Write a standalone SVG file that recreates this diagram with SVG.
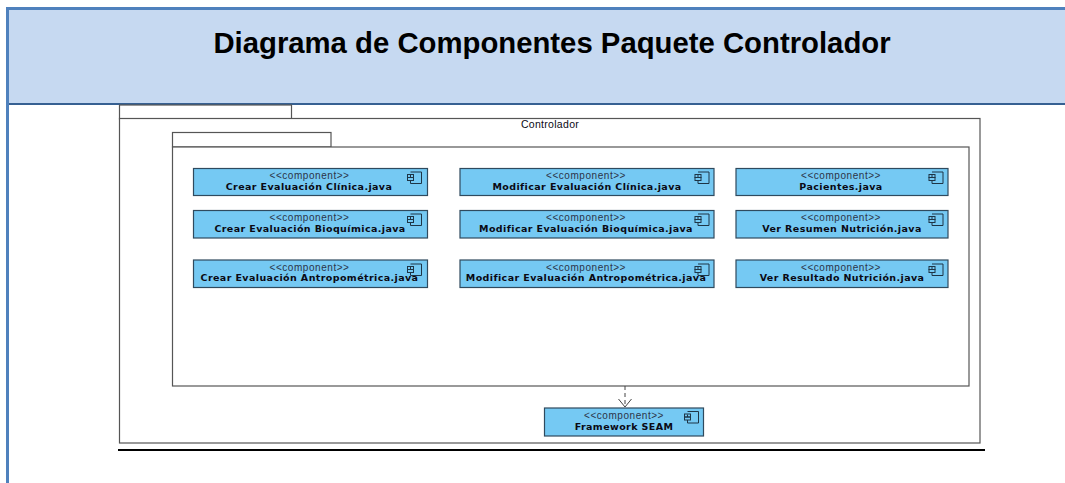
<svg xmlns="http://www.w3.org/2000/svg" width="1065" height="483" viewBox="0 0 1065 483">
<style>
text{font-family:"Liberation Sans",Arial,sans-serif;text-anchor:middle;fill:#0a0a14}
.title{font-size:29.300px;font-weight:700;fill:#000}
.st{font-size:10px;letter-spacing:.55px;fill:#2c3448}
.nm{font-family:"DejaVu Sans",Verdana,sans-serif;font-size:9.500px;font-weight:700;letter-spacing:.4px}
.box{fill:#75c9f3;stroke:#2f4a5e;stroke-width:1.2}
.ic{fill:none;stroke:#1e3546;stroke-width:1}
.pk{fill:#fff;stroke:#555;stroke-width:1.2}
</style>
<defs>
<g id="icon"><path class="ic" d="M3 0H14V11.500H3V8.500M3 3V5.500"/><rect class="ic" x="0" y="2.500" width="6" height="3"/><rect class="ic" x="0" y="5.500" width="6" height="3"/></g>
</defs>
<rect x="0" y="0" width="1065" height="483" fill="#fff"/>
<g id="header">
<rect x="8" y="8" width="1057" height="96" fill="#c6d9f1"/>
<rect x="6" y="7" width="1059" height="3" fill="#4f81bd"/>
<rect x="6" y="7" width="3" height="476" fill="#4f81bd"/>
<rect x="9" y="103" width="1056" height="2" fill="#366092"/>
<text class="title" x="552" y="53">Diagrama de Componentes Paquete Controlador</text>
</g>
<g id="pkg-controlador">
<rect class="pk" x="119.500" y="105" width="172" height="14"/>
<rect class="pk" x="119.500" y="118.500" width="860.500" height="324.500"/>
<text x="550" y="128" style="font-size:10.500px;letter-spacing:.3px" fill="#222">Controlador</text>
</g>
<g id="pkg-inner">
<rect class="pk" x="172.500" y="132.500" width="158.500" height="14.500"/>
<rect class="pk" x="172.500" y="147" width="796.500" height="239"/>
</g>
<g id="c1"><rect class="box" x="193.500" y="168.500" width="234" height="27"/><text class="st" x="309.500" y="179">&lt;&lt;component&gt;&gt;</text><text class="nm" x="309" y="189.500">Crear Evaluación Clínica.java</text><use href="#icon" x="407.500" y="172"/></g>
<g id="c2"><rect class="box" x="193.500" y="210.500" width="234" height="27.500"/><text class="st" x="309.500" y="221">&lt;&lt;component&gt;&gt;</text><text class="nm" x="310" y="231.500">Crear Evaluación Bioquímica.java</text><use href="#icon" x="407.500" y="214"/></g>
<g id="c3"><rect class="box" x="193.500" y="260" width="234" height="27.500"/><text class="st" x="309.500" y="270.500">&lt;&lt;component&gt;&gt;</text><text class="nm" x="309.500" y="281">Crear Evaluación Antropométrica.java</text><use href="#icon" x="407.500" y="264"/></g>
<g id="c4"><rect class="box" x="460" y="168.500" width="254" height="27"/><text class="st" x="586" y="179">&lt;&lt;component&gt;&gt;</text><text class="nm" x="587" y="189.500">Modificar Evaluación Clínica.java</text><use href="#icon" x="695" y="172"/></g>
<g id="c5"><rect class="box" x="460" y="210.500" width="254" height="27.500"/><text class="st" x="586" y="221">&lt;&lt;component&gt;&gt;</text><text class="nm" x="586" y="231.500">Modificar Evaluación Bioquímica.java</text><use href="#icon" x="695" y="214"/></g>
<g id="c6"><rect class="box" x="460" y="260" width="254" height="27.500"/><text class="st" x="586" y="270.500">&lt;&lt;component&gt;&gt;</text><text class="nm" x="586" y="281">Modificar Evaluación Antropométrica.java</text><use href="#icon" x="695" y="264"/></g>
<g id="c7"><rect class="box" x="736" y="168.500" width="212" height="27"/><text class="st" x="841" y="179">&lt;&lt;component&gt;&gt;</text><text class="nm" x="841" y="189.500">Pacientes.java</text><use href="#icon" x="929" y="172"/></g>
<g id="c8"><rect class="box" x="736" y="210.500" width="212" height="27.500"/><text class="st" x="841" y="221">&lt;&lt;component&gt;&gt;</text><text class="nm" x="842" y="231.500">Ver Resumen Nutrición.java</text><use href="#icon" x="929" y="214"/></g>
<g id="c9"><rect class="box" x="736" y="260" width="212" height="27.500"/><text class="st" x="841" y="270.500">&lt;&lt;component&gt;&gt;</text><text class="nm" x="842" y="281">Ver Resultado Nutrición.java</text><use href="#icon" x="929" y="264"/></g>
<g id="c10"><rect class="box" x="544.500" y="408" width="159" height="28"/><text class="st" x="624" y="418.500">&lt;&lt;component&gt;&gt;</text><text class="nm" x="624" y="429.500">Framework SEAM</text><use href="#icon" x="684.500" y="411.500"/></g>
<g id="connectors">
<path d="M625 386V407" fill="none" stroke="#444" stroke-width="1" stroke-dasharray="4 3"/>
<path d="M618.500 399L625 407L631.500 399" fill="none" stroke="#444" stroke-width="1"/>
</g>
<rect id="rule" x="118" y="449" width="867" height="2" fill="#000"/>
</svg>
